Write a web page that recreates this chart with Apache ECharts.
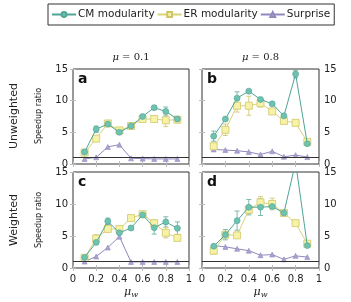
<!DOCTYPE html>
<html><head><meta charset="utf-8">
<script src="https://cdn.jsdelivr.net/npm/echarts@6/dist/echarts.min.js"></script>
<style>html,body{margin:0;padding:0;background:#fff}#c{width:351px;height:302px}</style>
</head><body><div id="c"></div>
<script>
const muW = [0.1,0.2,0.3,0.4,0.5,0.6,0.7,0.8,0.9];
const xTicks = ['0','0.2','0.4','0.6','0.8','1'];
const yTicks = [0,5,10,15];
const seriesNames = ['CM modularity','ER modularity','Surprise'];
const panelLetters = ['a','b','c','d'];
// panel a: unweighted, mu=0.1
const cmA = [1.9,5.5,6.3,5.0,6.0,7.5,8.9,8.3,7.1];
const erA = [1.8,4.0,6.4,5.3,6.0,7.1,7.1,6.9,7.0];
const suA = [0.8,1.05,2.7,3.05,0.9,0.85,0.8,0.8,0.8];
const cmAerr = [0.3,0.5,0.2,0.3,0.2,0.2,0.3,0.7,0.2];
const erAerr = [0.2,0.2,0.2,0.3,0.2,0.2,0.2,1.0,0.2];
// panel b: unweighted, mu=0.8
const cmB = [4.4,7.1,10.4,11.5,10.2,9.5,7.6,14.2,3.2];
const erB = [2.8,5.4,9.2,9.2,9.6,8.3,6.8,6.5,3.5];
const suB = [2.3,2.2,2.1,1.9,1.5,2.0,1.15,1.4,1.1];
const cmBerr = [0.8,0.2,1.0,0.2,0.2,0.2,0.2,0.6,0.2];
const erBerr = [0.3,0.9,1.0,1.5,0.6,0.2,0.2,0.2,0.2];
// panel c: weighted, mu=0.1
const cmC = [1.65,4.0,7.3,5.5,6.25,8.3,6.3,7.2,6.2];
const erC = [1.6,4.6,6.1,6.1,7.8,8.4,7.0,5.5,4.7];
const suC = [1.0,1.8,3.2,4.9,0.95,0.95,0.95,0.95,0.95];
const cmCerr = [0.2,0.3,0.5,0.2,0.3,0.3,1.0,0.8,1.0];
const erCerr = [0.2,0.6,0.2,0.2,0.2,0.2,0.5,0.8,0.3];
// panel d: weighted, mu=0.8
const cmD = [3.4,5.2,7.4,9.5,9.5,9.6,8.6,16.5,3.5];
const erD = [2.7,5.2,5.1,9.1,10.25,10.0,8.6,7.0,3.8];
const suD = [3.5,3.3,3.0,2.7,2.0,2.1,1.35,1.9,1.7];
const cmDerr = [0.2,0.8,1.5,1.2,1.3,0.3,0.3,0.2,0.2];
const erDerr = [0.5,0.3,0.3,0.6,0.9,0.9,0.3,0.2,0.3];

const panels = [
  {cm:cmA, er:erA, su:suA, cmE:cmAerr, erE:erAerr},
  {cm:cmB, er:erB, su:suB, cmE:cmBerr, erE:erBerr},
  {cm:cmC, er:erC, su:suC, cmE:cmCerr, erE:erCerr},
  {cm:cmD, er:erD, su:suD, cmE:cmDerr, erE:erDerr}
];
const colCM = {line:'#4fa596', fill:'#6fc2b0'};
const colER = {line:'#d9d27a', fill:'#f7f2a6', border:'#cfc66a'};
const colSU = {line:'#9189bd', fill:'#aaa3d0'};
const FONT = 'DejaVu Sans';

const gridPos = [
  {left:73, top:69, width:116, height:95},
  {left:202, top:69, width:117, height:95},
  {left:73, top:172, width:116, height:96},
  {left:202, top:172, width:117, height:96}
];
const grid = gridPos.map(g => Object.assign({show:true, borderColor:'#333', borderWidth:1, backgroundColor:'transparent'}, g));
const xAxis = [], yAxis = [], series = [];
const tickStyle = {show:true, inside:true, length:3, lineStyle:{color:'#bbb', width:1}};
gridPos.forEach((g,i) => {
  const bottomRow = i >= 2, rightCol = i % 2 === 1;
  xAxis.push({type:'value', gridIndex:i, min:0, max:1, interval:0.2, position:'bottom',
    axisLine:{show:false}, splitLine:{show:false}, axisTick:tickStyle,
    axisLabel:{show:bottomRow, fontFamily:FONT, fontSize:10, color:'#222', margin:6,
      formatter:v => xTicks[Math.round(v/0.2)]}});
  xAxis.push({type:'value', gridIndex:i, min:0, max:1, interval:0.2, position:'top',
    axisLine:{show:false}, splitLine:{show:false}, axisTick:tickStyle, axisLabel:{show:false}});
  yAxis.push({type:'value', gridIndex:i, min:0, max:15, interval:5, position: rightCol ? 'right':'left',
    axisLine:{show:false}, splitLine:{show:false}, axisTick:tickStyle,
    axisLabel:{show:true, fontFamily:FONT, fontSize:10, color:'#222', margin:5,
      formatter:v => String(yTicks[Math.round(v/5)])}});
  yAxis.push({type:'value', gridIndex:i, min:0, max:15, interval:5, position: rightCol ? 'left':'right',
    axisLine:{show:false}, splitLine:{show:false}, axisTick:tickStyle, axisLabel:{show:false}});
});

function errSeries(i, vals, errs, color) {
  return {type:'custom', xAxisIndex:2*i, yAxisIndex:2*i, silent:true, z:1, clip:true,
    data: muW.map((x,k) => [x, vals[k]-errs[k], vals[k]+errs[k]]),
    renderItem:(params, api) => {
      const lo = api.coord([api.value(0), api.value(1)]);
      const hi = api.coord([api.value(0), api.value(2)]);
      const w = 2.5;
      const st = {stroke:color, lineWidth:1, fill:null};
      return {type:'group', children:[
        {type:'line', shape:{x1:lo[0],y1:lo[1],x2:hi[0],y2:hi[1]}, style:st},
        {type:'line', shape:{x1:lo[0]-w,y1:lo[1],x2:lo[0]+w,y2:lo[1]}, style:st},
        {type:'line', shape:{x1:hi[0]-w,y1:hi[1],x2:hi[0]+w,y2:hi[1]}, style:st}
      ]};
    }};
}

panels.forEach((p,i) => {
  series.push(errSeries(i, p.cm, p.cmE, '#7fb8ad'));
  series.push(errSeries(i, p.er, p.erE, '#d6cf80'));
  series.push({name:seriesNames[2], type:'line', xAxisIndex:2*i, yAxisIndex:2*i, z:3,
    data: muW.map((x,k)=>[x,p.su[k]]), symbol:'triangle', symbolSize:5,
    lineStyle:{color:colSU.line, width:1}, itemStyle:{color:colSU.fill, borderColor:colSU.line, borderWidth:0.6},
    markLine:{silent:true, symbol:'none', label:{show:false}, lineStyle:{color:'#333', width:1.2, type:'solid'},
      data:[{yAxis:1}]}, animation:false});
  series.push({name:seriesNames[1], type:'line', xAxisIndex:2*i, yAxisIndex:2*i, z:4,
    data: muW.map((x,k)=>[x,p.er[k]]), symbol:'rect', symbolSize:7,
    lineStyle:{color:colER.line, width:1}, itemStyle:{color:colER.fill, borderColor:colER.border, borderWidth:0.8}, animation:false});
  series.push({name:seriesNames[0], type:'line', xAxisIndex:2*i, yAxisIndex:2*i, z:5,
    data: muW.map((x,k)=>[x,p.cm[k]]), symbol:'circle', symbolSize:6,
    lineStyle:{color:colCM.line, width:1}, itemStyle:{color:colCM.fill, borderColor:colCM.line, borderWidth:0.6}, animation:false});
});

const graphic = [];
panelLetters.forEach((L,i)=>{
  const g = gridPos[i];
  graphic.push({type:'text', x:g.left+5, y:g.top+3, style:{text:L, fontFamily:FONT, fontSize:14, fontWeight:'bold', fill:'#111'}});
});
// column headers
[0,1].forEach(i=>{
  const g = gridPos[i];
  graphic.push({type:'text', x:g.left+g.width/2, y:57, style:{
    text:'{m|μ} = ' + (i===0?'0.1':'0.8'), fontFamily:'DejaVu Serif', fontSize:10, fill:'#222', align:'center', verticalAlign:'middle',
    rich:{m:{fontFamily:'DejaVu Serif', fontStyle:'italic', fontSize:10}}}});
});
// x axis titles
[2,3].forEach(i=>{
  const g = gridPos[i];
  graphic.push({type:'text', x:g.left+g.width/2, y:292, style:{
    text:'{m|μ}{s|w}', fontFamily:'DejaVu Serif', fontSize:10, fill:'#222', align:'center', verticalAlign:'middle',
    rich:{m:{fontFamily:'DejaVu Serif', fontStyle:'italic', fontSize:11}, s:{fontFamily:'DejaVu Serif', fontStyle:'italic', fontSize:8, padding:[5,0,0,0]}}}});
});
// row labels
[[116,'Unweighted'],[220,'Weighted']].forEach(([y,t])=>{
  graphic.push({type:'text', x:14, y:y, rotation:Math.PI/2, style:{text:t, fontFamily:FONT, fontSize:11, fill:'#222', align:'center', verticalAlign:'middle'}});
});
[116,220].forEach(y=>{
  graphic.push({type:'text', x:39, y:y, rotation:Math.PI/2, style:{text:'Speedup ratio', fontFamily:FONT, fontSize:8, fill:'#222', align:'center', verticalAlign:'middle'}});
});

const chart = echarts.init(document.getElementById('c'), null, {renderer:'canvas'});
chart.setOption({
  animation:false,
  backgroundColor:'#fff',
  grid, xAxis, yAxis, series, graphic,
  legend:{data:seriesNames, left:48, top:4, orient:'horizontal', borderColor:'#333', borderWidth:1, borderRadius:0,
    padding:[5,4,5,3], itemGap:2, itemWidth:24, itemHeight:6,
    textStyle:{fontFamily:FONT, fontSize:10.5, color:'#222', padding:[0,0,0,-3]}}
});
</script></body></html>
